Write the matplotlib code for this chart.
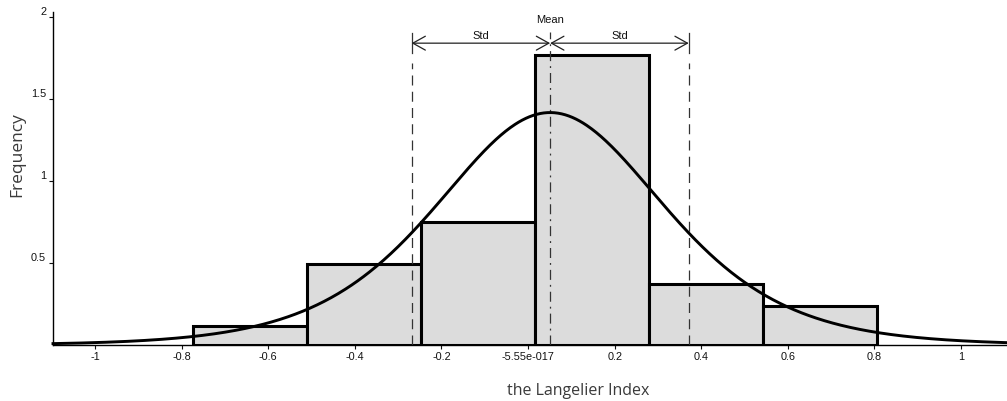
import numpy as np
import matplotlib
matplotlib.use("Agg")
import matplotlib.pyplot as plt

# ---- data ----
bin_edges = [-0.774, -0.511, -0.248, 0.016, 0.279, 0.542, 0.805]
bin_heights = [0.116, 0.494, 0.75, 1.768, 0.37, 0.24]
mean_val = 0.051
std_val = 0.32
xtick_vals = [-1, -0.8, -0.6, -0.4, -0.2, 0.0, 0.2, 0.4, 0.6, 0.8, 1.0]
xtick_labels = ["-1", "-0.8", "-0.6", "-0.4", "-0.2", "-5.55e-017", "0.2", "0.4", "0.6", "0.8", "1"]
ytick_vals = [0.5, 1, 1.5, 2]
ytick_labels = ["0.5", "1", "1.5", "2"]

SMALL = ['Liberation Sans Narrow', 'Liberation Sans', 'DejaVu Sans']
LABEL = ['Open Sans', 'DejaVu Sans']

fig = plt.figure(figsize=(10.07, 4.01), dpi=100)
ax = fig.add_axes([53/1007, 1-345/401, 1-53/1007, (345-12)/401])

xlim = (-1.097, 1.106)
ax.set_xlim(*xlim)
ax.set_ylim(0, 2.03)

# histogram bars
lefts = np.array(bin_edges[:-1])
widths = np.diff(bin_edges)
ax.bar(lefts, bin_heights, width=widths, align='edge', color='#dcdcdc',
       edgecolor='black', linewidth=2.2, zorder=2)

# fitted logistic density curve (mean / std from the reference)
s = std_val * np.sqrt(3) / np.pi
xs = np.linspace(xlim[0], xlim[1], 800)
zs = (xs - mean_val) / s
ys = np.exp(-zs) / (s * (1 + np.exp(-zs)) ** 2)
ax.plot(xs, ys, color='black', linewidth=2.1, zorder=4, clip_on=False)

# mean / std lines
y_arrow = 1.84
for xv in (mean_val - std_val, mean_val + std_val):
    ax.plot([xv, xv], [0, 1.72], color='#333333', linewidth=0.9,
            dashes=(8, 5), zorder=3)
    ax.plot([xv, xv], [y_arrow - 0.06, y_arrow + 0.06], color='#333333', linewidth=0.9, zorder=3)
ax.plot([mean_val, mean_val], [0, 1.91], color='#333333', linewidth=0.9,
        dashes=(8, 4, 1.5, 4), zorder=3)

for x0, x1 in ((mean_val - std_val, mean_val), (mean_val, mean_val + std_val)):
    ax.annotate('', xy=(x1, y_arrow), xytext=(x0, y_arrow),
                arrowprops=dict(arrowstyle='<->,head_length=0.9,head_width=0.5',
                                color='#222222', linewidth=0.9, shrinkA=0, shrinkB=0),
                zorder=5)
    ax.text((x0 + x1) / 2, y_arrow + 0.015, 'Std', ha='center', va='bottom',
            fontsize=8, family=SMALL, color='#111111')
ax.text(mean_val, 1.95, 'Mean', ha='center', va='bottom', fontsize=8,
        family=SMALL, color='#111111')

# axes styling
for sp in ('top', 'right'):
    ax.spines[sp].set_visible(False)
ax.spines['left'].set_linewidth(1.0)
ax.spines['bottom'].set_linewidth(1.0)
ax.spines['left'].set_zorder(6)
ax.spines['bottom'].set_zorder(6)

ax.set_xticks(xtick_vals)
ax.set_xticklabels(xtick_labels)
ax.set_yticks(ytick_vals)
ax.set_yticklabels(ytick_labels)
ax.tick_params(axis='both', length=3, width=0.8, labelsize=7.8, pad=2, colors='#111111')
for lab in ax.get_xticklabels() + ax.get_yticklabels():
    lab.set_family(SMALL)
for lab in ax.get_yticklabels():
    lab.set_va('bottom')

ax.set_ylabel('Frequency', fontsize=12.5, family=LABEL, color='#3a3a3a')
ax.yaxis.set_label_coords(-0.0293, 0.571)
ax.set_xlabel('the Langelier Index', fontsize=11.5, family=LABEL, color='#3a3a3a')
ax.xaxis.set_label_coords(0.551, -0.115)

fig.savefig('out.png', dpi=100)
